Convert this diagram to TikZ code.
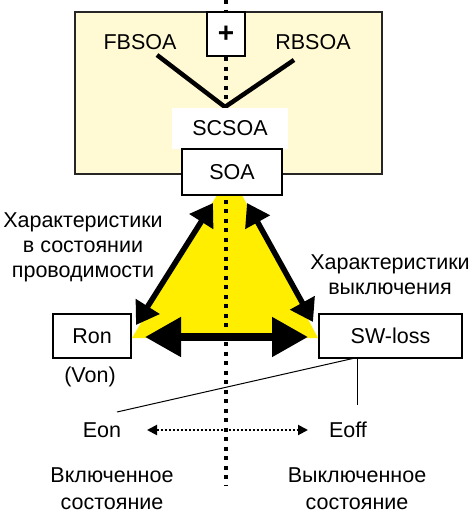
\documentclass[tikz,border=0pt]{standalone}
\usepackage{fontspec}
\setmainfont{Liberation Sans}
\usetikzlibrary{arrows.meta}
\definecolor{cream}{RGB}{255,250,212}
\definecolor{ylw}{RGB}{255,238,0}
\begin{document}
\begin{tikzpicture}[x=1pt,y=-1pt,
  lbl/.style={font=\fontsize{21.5}{25}\selectfont, inner sep=0pt, align=center},
  box/.style={draw=black, line width=1.5pt, fill=white, inner sep=0pt, font=\fontsize{21.5}{25}\selectfont},
  diagarrow/.style={line width=5.5pt, {Triangle[length=22pt,width=27pt]}-{Triangle[length=22pt,width=27pt]}},
  horarrow/.style={line width=8pt, {Triangle[length=36pt,width=38pt]}-{Triangle[length=36pt,width=38pt]}},
  vline/.style={line width=4.5pt, black},
  thinline/.style={line width=1pt, black},
  dotarrow/.style={line width=2pt, dash pattern=on 2pt off 2pt, {Triangle[length=10pt,width=10pt]}-{Triangle[length=10pt,width=10pt]}},
  axis/.style={line width=4pt, dash pattern=on 4pt off 5.5pt}
]
\useasboundingbox (0,0) rectangle (474,514);

% outer light-yellow box
\node[draw=black!85, line width=1.5pt, fill=cream, minimum width=307pt, minimum height=162pt, inner sep=0pt] (frame) at (228.5,93) {};

% yellow trapezoid
\fill[ylw] (217,195) -- (242,195) -- (318,338) -- (132,338) -- cycle;

% coordinates for arrows
\coordinate (tl) at (213,203);
\coordinate (tr) at (247,203);
\coordinate (bl) at (136,325);
\coordinate (br) at (313,322);
\coordinate (hl) at (145,337);
\coordinate (hr) at (308,337);

\draw[diagarrow] (tl) -- (bl);
\draw[diagarrow] (tr) -- (br);
\draw[horarrow] (hl) -- (hr);

% vertical dotted axis
\coordinate (axtop) at (225.5,0);
\coordinate (axbot) at (225.5,485);
\draw[axis] (axtop) -- (axbot);

% V lines
\coordinate (vL) at (157,55);
\coordinate (vA) at (225,107);
\coordinate (vR) at (294,60);
\draw[vline] (vL) -- (vA) -- (vR);

% boxes
\node[box, minimum width=38pt, minimum height=44pt, font=\fontsize{28}{30}\selectfont\bfseries] (plus) at (226,34) {+};
\node[fill=white, inner sep=0pt, minimum width=116pt, minimum height=41pt, font=\fontsize{21.5}{25}\selectfont] (scsoa) at (230,128) {SCSOA};
\node[box, minimum width=100pt, minimum height=46pt] (soa) at (232,172) {SOA};
\node[box, minimum width=78pt, minimum height=44pt] (ron) at (92,336) {Ron};
\node[box, minimum width=143pt, minimum height=44pt] (sw) at (390.5,336) {SW-loss};

\node[lbl] (fb) at (140,42) {FBSOA};
\node[lbl] (rb) at (313,42) {RBSOA};

\node[lbl] (left) at (83,247.5) {Характеристики\\в состоянии\\проводимости};
\node[lbl] (right) at (390,274.5) {Характеристики\\выключения};
\node[lbl] (von) at (90,377) {(Von)};

\node[lbl] (eon) at (102,430) {Eon};
\node[lbl] (eoff) at (348,430) {Eoff};
\coordinate (dl) at (147,430);
\coordinate (dr) at (308,430);
\draw[dotarrow] (dl) -- (dr);

\coordinate (swb1) at (355,358);
\coordinate (swb2) at (357,358);
\coordinate (eonl) at (117,412);
\coordinate (eoffl) at (357,405);
\draw[thinline] (swb1) -- (eonl);
\draw[thinline] (swb2) -- (eoffl);

\node[lbl, font=\fontsize{21.5}{27}\selectfont] (onst) at (112,488.5) {Включенное\\состояние};
\node[lbl, font=\fontsize{21.5}{27}\selectfont] (offst) at (357,488.5) {Выключенное\\состояние};
\end{tikzpicture}
\end{document}
